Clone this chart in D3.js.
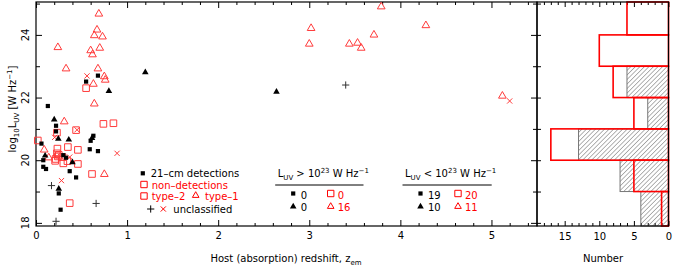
<!DOCTYPE html>
<html>
<head>
<meta charset="utf-8">
<script src="https://cdn.jsdelivr.net/npm/d3@7"></script>
<style>
  html, body { margin: 0; padding: 0; background: #fff; }
  svg { display: block; font-family: "DejaVu Sans", sans-serif; }
</style>
</head>
<body>
<div id="chart"></div>
<script>
// 21-cm detections (black, filled) and non-detections (red, open) vs host redshift
const detType2 = [ // filled squares [z, log10 L_UV]
  [0.55, 22.51], [0.68, 22.70], [0.13, 21.73], [0.22, 21.10], [0.22, 20.92],
  [0.63, 20.78], [0.60, 20.62], [0.06, 20.53], [0.59, 20.35], [0.68, 20.29],
  [0.30, 20.16], [0.33, 20.08], [0.08, 20.00], [0.08, 19.79], [0.11, 19.72],
  [0.37, 19.65], [0.44, 19.45], [0.25, 18.94], [0.27, 18.42]
]
const detType1 = [ // filled triangles
  [1.20, 22.82], [0.80, 22.22], [0.20, 21.31], [2.64, 22.20], [0.245, 20.70],
  [0.36, 20.67], [0.615, 20.72], [0.10, 20.16], [0.40, 19.95], [0.25, 19.10]
]
const nonType2 = [ // open squares
  [0.55, 22.30], [0.74, 21.16], [0.85, 21.18], [0.44, 20.96], [0.23, 20.88],
  [0.02, 20.63], [0.35, 20.42], [0.235, 20.37], [0.46, 20.33], [0.23, 20.22],
  [0.215, 20.04], [0.29, 20.10], [0.345, 19.97], [0.30, 19.90], [0.46, 19.88],
  [0.615, 19.56], [0.37, 18.63], [0.25, 20.17], [0.21, 19.98], [0.24, 20.12]
]
const nonType1 = [ // open triangles
  [0.69, 24.69], [0.67, 24.18], [0.64, 24.00], [0.73, 23.96], [0.24, 23.62],
  [0.70, 23.60], [0.60, 23.52], [0.62, 23.39], [3.79, 24.92], [3.02, 24.23],
  [4.28, 24.32], [3.71, 24.02], [3.00, 23.73], [3.44, 23.73], [3.53, 23.76],
  [3.57, 23.60], [0.33, 22.94], [0.68, 22.94], [0.75, 22.69], [0.76, 22.58],
  [0.63, 22.45], [0.64, 21.82], [0.31, 21.25], [5.12, 22.07], [0.09, 20.35],
  [0.14, 20.10], [0.75, 19.57]
]
const detUnclass = [[0.17, 19.19], [0.66, 18.62], [0.22, 18.05], [3.40, 22.40]] // plus
const nonUnclass = [ // crosses
  [0.56, 22.69], [0.205, 20.73], [0.45, 20.97], [0.89, 20.22], [0.27, 20.12],
  [0.37, 20.10], [0.28, 19.35], [5.20, 21.89]
]

// histogram, bins of 1 dex in log10 L_UV
const binEdges = [18, 19, 20, 21, 22, 23, 24, 25]
const histAll = [1, 5, 17, 5, 8, 10, 6]
const histDet = [4, 7, 13, 3, 6, 0, 0]

const xMajor = [0, 1, 2, 3, 4, 5]
const yMajor = [18, 20, 22, 24]
const nMajor = [0, 5, 10, 15]

const W = 673, H = 271
const RED = '#ff0000', PRED = '#ff3b3b'
const svg = d3.select('#chart').append('svg').attr('width', W).attr('height', H)

const x = d3.scaleLinear().domain([0, 5.5]).range([36, 537])
const y = d3.scaleLinear().domain([17.9, 25.05]).range([226, 2])
const xh = d3.scaleLinear().domain([19, 0]).range([537, 668.5])

// hatch pattern for the detections histogram
svg.append('defs').append('pattern')
  .attr('id', 'hatch').attr('patternUnits', 'userSpaceOnUse')
  .attr('width', 3.2).attr('height', 3.2)
  .attr('patternTransform', 'rotate(45)')
  .append('line').attr('x1', 0).attr('y1', 0).attr('x2', 0).attr('y2', 3.2)
  .attr('stroke', '#444').attr('stroke-width', 0.8)

function cleanAxis (g) {
  g.select('.domain').remove()
  g.selectAll('line').attr('stroke', '#000')
  g.selectAll('text').attr('font-size', 10).attr('font-family', '"DejaVu Sans", sans-serif').attr('fill', '#000')
}
const range = (a, b, s) => d3.range(a, b + 1e-9, s)

// ---- left panel axes
const xMinor = range(0, 5.4, 0.2).filter(v => Math.abs(v - Math.round(v)) > 1e-6)
svg.append('g').attr('transform', 'translate(0,226)')
  .call(d3.axisBottom(x).tickValues(xMajor).tickSize(-6).tickPadding(6).tickFormat(d3.format('d'))).call(cleanAxis)
svg.append('g').attr('transform', 'translate(0,226)')
  .call(d3.axisBottom(x).tickValues(xMinor).tickSize(-3).tickFormat('')).call(cleanAxis)
svg.append('g').attr('transform', 'translate(0,2)')
  .call(d3.axisTop(x).tickValues(xMajor).tickSize(-6).tickFormat('')).call(cleanAxis)
svg.append('g').attr('transform', 'translate(0,2)')
  .call(d3.axisTop(x).tickValues(xMinor).tickSize(-3).tickFormat('')).call(cleanAxis)

const yMinor = [19, 21, 23, 25]
svg.append('g').attr('transform', 'translate(36,0)')
  .call(d3.axisLeft(y).tickValues(yMajor).tickSize(-6).tickFormat('')).call(cleanAxis)
svg.append('g').attr('transform', 'translate(36,0)')
  .call(d3.axisLeft(y).tickValues(yMinor).tickSize(-4).tickFormat('')).call(cleanAxis)
svg.append('g').attr('transform', 'translate(537,0)')
  .call(d3.axisRight(y).tickValues(yMajor).tickSize(-6).tickFormat('')).call(cleanAxis)
svg.append('g').attr('transform', 'translate(537,0)')
  .call(d3.axisRight(y).tickValues(yMinor).tickSize(-4).tickFormat('')).call(cleanAxis)

svg.append('g').selectAll('text').data(yMajor).join('text')
  .attr('transform', d => `translate(28.5,${y(d)}) rotate(-90)`)
  .attr('text-anchor', 'middle').attr('font-size', 10).text(d => d)

// ---- right panel axes
const nMinor = d3.range(0, 19).filter(v => v % 5 !== 0)
svg.append('g').attr('transform', 'translate(0,226)')
  .call(d3.axisBottom(xh).tickValues(nMajor).tickSize(-5).tickPadding(7)).call(cleanAxis)
svg.append('g').attr('transform', 'translate(0,226)')
  .call(d3.axisBottom(xh).tickValues(nMinor).tickSize(-3).tickFormat('')).call(cleanAxis)
svg.append('g').attr('transform', 'translate(0,2)')
  .call(d3.axisTop(xh).tickValues(nMajor).tickSize(-5).tickFormat('')).call(cleanAxis)
svg.append('g').attr('transform', 'translate(0,2)')
  .call(d3.axisTop(xh).tickValues(nMinor).tickSize(-3).tickFormat('')).call(cleanAxis)
svg.append('g').attr('transform', 'translate(537,0)')
  .call(d3.axisLeft(y).tickValues(range(18, 25, 1)).tickSize(-4).tickFormat('')).call(cleanAxis)

// ---- histogram
const bins = histAll.map((n, i) => ({
  lo: Math.max(i === 0 ? y.domain()[0] : binEdges[i], y.domain()[0]),
  hi: Math.min(i === histAll.length - 1 ? y.domain()[1] : binEdges[i + 1], y.domain()[1]),
  all: n,
  det: histDet[i]
}))
svg.append('g').selectAll('rect').data(bins.filter(b => b.det > 0)).join('rect')
  .attr('x', d => xh(d.det)).attr('width', d => xh(0) - xh(d.det))
  .attr('y', d => y(d.hi)).attr('height', d => y(d.lo) - y(d.hi))
  .attr('fill', 'url(#hatch)').attr('stroke', '#777').attr('stroke-width', 1)
svg.append('g').selectAll('rect').data(bins).join('rect')
  .attr('x', d => xh(d.all)).attr('width', d => xh(0) - xh(d.all))
  .attr('y', d => y(d.hi)).attr('height', d => y(d.lo) - y(d.hi))
  .attr('fill', 'none').attr('stroke', RED).attr('stroke-width', 1.6)

// frames
svg.append('rect').attr('x', 36).attr('y', 2).attr('width', 501).attr('height', 224)
  .attr('fill', 'none').attr('stroke', '#000').attr('stroke-width', 1.2)
svg.append('rect').attr('x', 537).attr('y', 2).attr('width', 131.5).attr('height', 224)
  .attr('fill', 'none').attr('stroke', '#000').attr('stroke-width', 1.2)

// ---- marker shapes
const shape = {
  sq: s => `M${-s},${-s}H${s}V${s}H${-s}Z`,
  tri: s => `M0,${-s * 1.1}L${s * 1.1},${s * 0.8}L${-s * 1.1},${s * 0.8}Z`,
  plus: s => `M${-s},0H${s}M0,${-s}V${s}`,
  cross: s => `M${-s},${-s}L${s},${s}M${-s},${s}L${s},${-s}`
}
function markers (data, kind, size, fill, stroke) {
  svg.append('g').selectAll('path').data(data).join('path')
    .attr('transform', d => `translate(${x(d[0])},${y(d[1])})`)
    .attr('d', shape[kind](size))
    .attr('fill', fill).attr('stroke', stroke).attr('stroke-width', 1)
}
markers(nonType2, 'sq', 3.3, 'none', PRED)
markers(nonType1, 'tri', 3.5, 'none', PRED)
markers(nonUnclass, 'cross', 2.6, 'none', PRED)
markers(detType2, 'sq', 2.1, '#000', 'none')
markers(detType1, 'tri', 3.0, '#000', 'none')
markers(detUnclass, 'plus', 3.6, 'none', '#333')

// ---- legends
function sym (g, kind, cx, cy, size, fill, stroke) {
  g.append('path').attr('transform', `translate(${cx},${cy})`).attr('d', shape[kind](size))
    .attr('fill', fill).attr('stroke', stroke).attr('stroke-width', 1)
}
function txt (g, tx, ty, s, color) {
  return g.append('text').attr('x', tx).attr('y', ty).attr('font-size', 10).attr('fill', color || '#000').text(s)
}
const leg = svg.append('g')
sym(leg, 'sq', 142.8, 173.3, 2.1, '#000', 'none')
txt(leg, 150.7, 177, '21\u2013cm detections')
sym(leg, 'sq', 144, 184.5, 3.2, 'none', RED)
txt(leg, 151.7, 188.5, 'non\u2013detections', RED)
sym(leg, 'sq', 144, 196, 3.2, 'none', RED)
txt(leg, 151.7, 200, 'type\u20132', RED)
sym(leg, 'tri', 195.7, 195, 3.0, 'none', RED)
txt(leg, 205, 200, 'type\u20131', RED)
sym(leg, 'plus', 150.7, 209, 3.6, 'none', '#000')
sym(leg, 'cross', 163.3, 209, 2.6, 'none', RED)
txt(leg, 173.3, 212.5, 'unclassified')

function luvTitle (g, tx, ty, op) {
  const t = g.append('text').attr('x', tx).attr('y', ty).attr('font-size', 10)
  t.append('tspan').text('L')
  t.append('tspan').attr('font-size', 7).attr('dy', 2.5).text('UV')
  t.append('tspan').attr('dy', -2.5).text(` ${op} 10`)
  t.append('tspan').attr('font-size', 7).attr('dy', -4.5).text('23')
  t.append('tspan').attr('dy', 4.5).text(' W Hz')
  t.append('tspan').attr('font-size', 7).attr('dy', -4.5).text('\u22121')
}
const counts = [
  { x0: 277.7, x1: 363.5, op: '>', det: [0, 0], non: [0, 16] },
  { x0: 405, x1: 491.7, op: '<', det: [19, 10], non: [20, 11] }
]
counts.forEach(c => {
  const g = svg.append('g')
  luvTitle(g, c.x0, 177, c.op)
  g.append('line').attr('x1', c.x0 - 2.5).attr('x2', c.x1).attr('y1', 185).attr('y2', 185)
    .attr('stroke', '#000').attr('stroke-width', 1)
  const sx = c.x0 + 15.5, rx = c.x0 + 53
  sym(g, 'sq', sx, 193.5, 2.1, '#000', 'none')
  txt(g, sx + 7.5, 198.5, c.det[0])
  sym(g, 'tri', sx, 206, 3.0, '#000', 'none')
  txt(g, sx + 7.5, 211, c.det[1])
  sym(g, 'sq', rx, 193.5, 3.2, 'none', RED)
  txt(g, rx + 7, 198.5, c.non[0], RED)
  sym(g, 'tri', rx, 206, 3.0, 'none', RED)
  txt(g, rx + 7, 211, c.non[1], RED)
})

// ---- axis titles
const xt = svg.append('text').attr('x', 286).attr('y', 262).attr('text-anchor', 'middle').attr('font-size', 10)
xt.append('tspan').text('Host (absorption) redshift, z')
xt.append('tspan').attr('font-size', 7).attr('dy', 2.5).text('em')

svg.append('text').attr('x', 603).attr('y', 262).attr('text-anchor', 'middle').attr('font-size', 10).text('Number')

const yt = svg.append('text').attr('transform', 'translate(16,109) rotate(-90)').attr('text-anchor', 'middle').attr('font-size', 10)
yt.append('tspan').text('log')
yt.append('tspan').attr('font-size', 7).attr('dy', 2.5).text('10')
yt.append('tspan').attr('dy', -2.5).text('L')
yt.append('tspan').attr('font-size', 7).attr('dy', 2.5).text('UV')
yt.append('tspan').attr('dy', -2.5).text(' [W Hz')
yt.append('tspan').attr('font-size', 7).attr('dy', -4.5).text('\u22121')
yt.append('tspan').attr('dy', 4.5).text(']')
</script>
</body>
</html>
